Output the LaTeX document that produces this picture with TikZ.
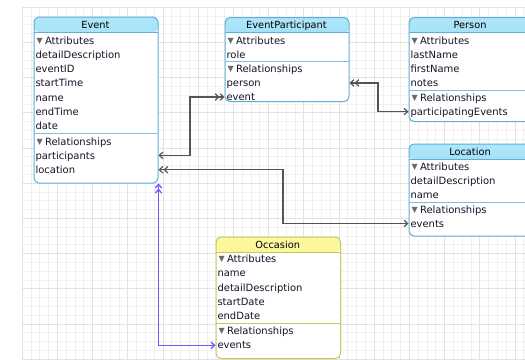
\documentclass[tikz,border=0pt]{standalone}
\usepackage{fontspec}
\setmainfont{DejaVu Sans}
\usetikzlibrary{arrows.meta}
\definecolor{gridminor}{RGB}{241,241,241}
\definecolor{gridmajor}{RGB}{226,226,226}
\definecolor{blueborder}{RGB}{95,175,215}
\definecolor{bluetop}{RGB}{175,230,250}
\definecolor{bluebot}{RGB}{105,200,240}
\definecolor{bluesep}{RGB}{130,190,222}
\definecolor{yelborder}{RGB}{200,198,90}
\definecolor{yeltop}{RGB}{252,248,160}
\definecolor{yelbot}{RGB}{240,232,95}
\definecolor{txt}{RGB}{20,20,40}
\definecolor{trigray}{RGB}{105,105,105}
\definecolor{relline}{RGB}{85,85,85}
\definecolor{purp}{RGB}{115,85,255}
\newcommand\tri{\raisebox{1pt}{\color{trigray}\fontsize{8}{8}\selectfont ▼}\hspace{2.2pt}}
\begin{document}
\begin{tikzpicture}[x=1pt,y=-1pt,
  font=\fontsize{10}{12}\selectfont,
  ent/.style n args={3}{draw=#1, line width=1pt, rounded corners=5pt,
    anchor=north west, inner sep=0pt, fill=white,
    path picture={\shade[top color=#2,bottom color=#3]
      (path picture bounding box.north west) rectangle
      ([yshift=-15.5pt]path picture bounding box.north east);}},
  bluebox/.style={ent={blueborder}{bluetop}{bluebot}},
  yelbox/.style={ent={yelborder}{yeltop}{yelbot}},
  title/.style={anchor=base, inner sep=0pt, text=black, font=\fontsize{9.8}{11}\selectfont},
  row/.style={anchor=base west, inner sep=0pt, text=txt, text height=7.2pt, text depth=0pt},
  bsep/.style={draw=bluesep, line width=0.8pt},
  ysep/.style={draw=yelborder, line width=0.8pt},
  rel/.style={draw=relline, line width=1.2pt},
  prel/.style={draw=purp, line width=1.3pt},
  one/.tip={Straight Barb[length=3.5pt,width=6.5pt]},
  many/.tip={Straight Barb[length=3.5pt,width=6.5pt] Straight Barb[length=3.5pt,width=6.5pt]}
]
\path[use as bounding box, clip] (0,0) rectangle (525,359);
\fill[white] (0,0) rectangle (525,359);
\begin{scope}[shift={(22,7)}]
  \draw[gridminor, line width=0.6pt] (0,0) grid[step=8.8pt] (503,352);
  \draw[gridmajor, line width=0.6pt] (0,0) grid[step=35.2pt] (503,352);
\end{scope}

% ---------- Event ----------
\node[bluebox, minimum width=124pt, minimum height=166pt] (event) at (33.5,16.5) {};
\draw[draw=blueborder, line width=0.8pt] (33.5,32) -- (157.5,32);
\node[title] (eventT) at (95.5,28.1) {Event};
\node[row] (evattr) at (36.5,44.1) {\tri Attributes};
\node[row] (evdd) at (35.3,58.1) {detailDescription};
\node[row] (evid) at (35.3,72.4) {eventID};
\node[row] (evst) at (35.3,86.7) {startTime};
\node[row] (evname) at (35.3,101.0) {name};
\node[row] (evet) at (35.3,115.3) {endTime};
\node[row] (evdate) at (35.3,129.6) {date};
\draw[bsep] (33.5,133.8) -- (157.5,133.8);
\node[row] (evrel) at (36.5,145.1) {\tri Relationships};
\node[row] (evparticipants) at (35.3,159.0) {participants};
\node[row] (evlocation) at (35.3,173.3) {location};

% ---------- EventParticipant ----------
\node[bluebox, minimum width=124pt, minimum height=84pt] (eventp) at (224.5,17) {};
\draw[draw=blueborder, line width=0.8pt] (224.5,32.5) -- (348.5,32.5);
\node[title] (eventpT) at (286.5,28.6) {EventParticipant};
\node[row] (epattr) at (227.5,44.3) {\tri Attributes};
\node[row] (eprole) at (226.3,58.2) {role};
\draw[bsep] (224.5,61.5) -- (348.5,61.5);
\node[row] (eprel) at (227.5,72.6) {\tri Relationships};
\node[row] (epperson) at (226.3,86.5) {person};
\node[row] (epevent) at (226.3,100.6) {event};

% ---------- Person ----------
\node[bluebox, minimum width=123pt, minimum height=104pt] (person) at (408.5,17) {};
\draw[draw=blueborder, line width=0.8pt] (408.5,32.5) -- (531.5,32.5);
\node[title] (personT) at (470,28.6) {Person};
\node[row] (pattr) at (411.5,44.3) {\tri Attributes};
\node[row] (plast) at (410.3,58.2) {lastName};
\node[row] (pfirst) at (410.3,72.5) {firstName};
\node[row] (pnotes) at (410.3,86.8) {notes};
\draw[bsep] (408.5,90.3) -- (531.5,90.3);
\node[row] (prel) at (411.5,101.3) {\tri Relationships};
\node[row] (ppe) at (410.3,115.2) {participatingEvents};

% ---------- Location ----------
\node[bluebox, minimum width=123pt, minimum height=92pt] (location) at (408.5,143.5) {};
\draw[draw=blueborder, line width=0.8pt] (408.5,159) -- (531.5,159);
\node[title] (locationT) at (470,155.1) {Location};
\node[row] (lattr) at (411.5,170.6) {\tri Attributes};
\node[row] (ldd) at (410.3,184.6) {detailDescription};
\node[row] (lname) at (410.3,198.9) {name};
\draw[bsep] (408.5,202.3) -- (531.5,202.3);
\node[row] (lrel) at (411.5,213.1) {\tri Relationships};
\node[row] (levents) at (410.3,227.1) {events};

% ---------- Occasion ----------
\node[yelbox, minimum width=124.5pt, minimum height=121.5pt] (occasion) at (215.5,236.5) {};
\draw[draw=yelborder, line width=0.8pt] (215.5,252) -- (340,252);
\node[title] (occasionT) at (277.75,248.1) {Occasion};
\node[row] (oattr) at (218.5,262.6) {\tri Attributes};
\node[row] (oname) at (217.3,276.6) {name};
\node[row] (odd) at (217.3,291.1) {detailDescription};
\node[row] (osd) at (217.3,305.4) {startDate};
\node[row] (oed) at (217.3,319.8) {endDate};
\draw[ysep] (215.5,323.6) -- (340,323.6);
\node[row] (orel) at (218.5,334.6) {\tri Relationships};
\node[row] (oevents) at (217.3,348.9) {events};

% ---------- connectors ----------
\draw[rel, {one}-{many}] (event.east |- evparticipants.west) -| (190,120) |- (eventp.west |- epevent.west);
\draw[rel, {many}-{one}] (event.east |- evlocation.west) -| (283,200) |- (location.west |- levents.west);
\draw[rel, {many}-{one}] (eventp.east |- epperson.west) -| (378,100) |- (person.west |- ppe.west);
\draw[prel, {many}-{one}] (event.south east) |- (occasion.west |- oevents.west);
\end{tikzpicture}
\end{document}
